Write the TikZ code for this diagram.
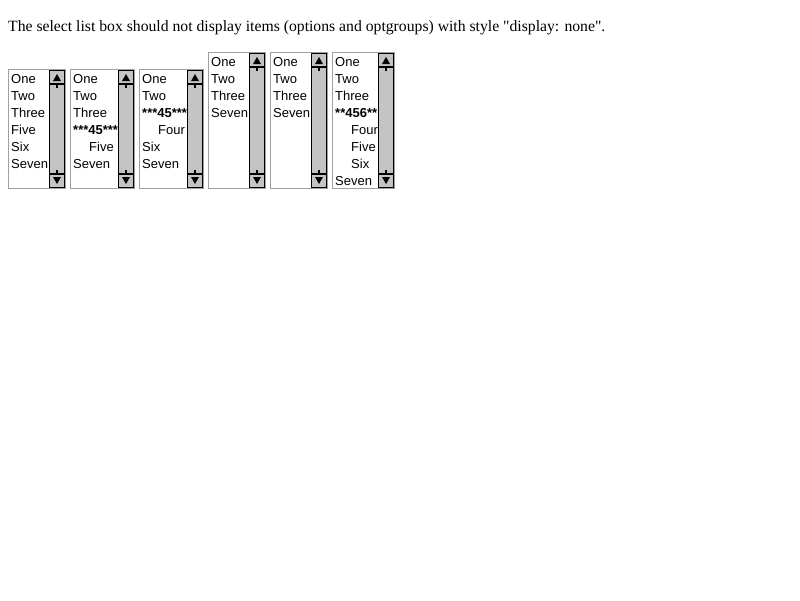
\documentclass[tikz,border=0pt]{standalone}
\usepackage{fontspec}
\setmainfont{Liberation Serif}[Ligatures=TeXOff]
\newfontfamily\arialf{Liberation Sans}
\definecolor{bordergray}{RGB}{160,160,160}
\definecolor{trackgray}{RGB}{196,196,196}
\tikzset{
  lbox/.style={draw=bordergray, fill=white, line width=1pt},
  sbar/.style={draw=black, fill=trackgray, line width=1pt},
  sbtn/.style={draw=black, fill=trackgray, line width=1pt},
  tick/.style={draw=black, line width=2pt},
  tri/.style={fill=black},
  opt/.style={anchor=base west, inner sep=0pt, font=\arialf\fontsize{13}{15}\selectfont},
  grp/.style={anchor=base west, inner sep=0pt, font=\arialf\bfseries\fontsize{13}{15}\selectfont},
  title/.style={anchor=base west, inner sep=0pt, font=\fontsize{15.7}{19}\selectfont},
}
% #1 left col, #2 right col, #3 top row, #4 bottom row
\newcommand\listbox[4]{%
  \pgfmathsetmacro\sL{#2-16}%
  \pgfmathsetmacro\cx{#2-16+8}%
  \draw[lbox] (#1+0.5,#3+0.5) rectangle (#2+0.5,#4+0.5);
  \draw[sbar] (\sL+0.5,#3+1.5) rectangle (#2-0.5,#4-0.5);
  \draw[sbtn] (\sL+0.5,#3+1.5) rectangle (#2-0.5,#3+14.5);
  \draw[black, line width=1pt] (\sL+0.5,#3+15.5) -- (#2-0.5,#3+15.5);
  \fill[tri] (\cx,#3+5) -- (\cx-4,#3+12) -- (\cx+4,#3+12) -- cycle;
  \draw[tick] (\cx,#3+15.5) -- (\cx,#3+19);
  \draw[sbtn] (\sL+0.5,#4-13.5) rectangle (#2-0.5,#4-0.5);
  \draw[black, line width=1pt] (\sL+0.5,#4-14.5) -- (#2-0.5,#4-14.5);
  \fill[tri] (\cx-4,#4-11) -- (\cx+4,#4-11) -- (\cx,#4-4) -- cycle;
  \draw[tick] (\cx,#4-14.5) -- (\cx,#4-18);
}
\begin{document}
\begin{tikzpicture}[x=1pt,y=-1pt]
\useasboundingbox[fill=white] (0,0) rectangle (800,600);
\node[title] (title) at (8,31) {The select list box should not display items (options and optgroups) with style "display: none".};

% box 1
\listbox{8}{65}{69}{188}
\node[opt] (a1) at (11,83) {One};
\node[opt] (a2) at (11,100) {Two};
\node[opt] (a3) at (11,117) {Three};
\node[opt] (a4) at (11,134) {Five};
\node[opt] (a5) at (11,151) {Six};
\node[opt] (a6) at (11,168) {Seven};

% box 2
\listbox{70}{134}{69}{188}
\node[opt] (b1) at (73,83) {One};
\node[opt] (b2) at (73,100) {Two};
\node[opt] (b3) at (73,117) {Three};
\node[grp] (b4) at (73,134) {***45***};
\node[opt] (b5) at (89,151) {Five};
\node[opt] (b6) at (73,168) {Seven};

% box 3
\listbox{139}{203}{69}{188}
\node[opt] (c1) at (142,83) {One};
\node[opt] (c2) at (142,100) {Two};
\node[grp] (c3) at (142,117) {***45***};
\node[opt] (c4) at (158,134) {Four};
\node[opt] (c5) at (142,151) {Six};
\node[opt] (c6) at (142,168) {Seven};

% box 4
\listbox{208}{265}{52}{188}
\node[opt] (d1) at (211,66) {One};
\node[opt] (d2) at (211,83) {Two};
\node[opt] (d3) at (211,100) {Three};
\node[opt] (d4) at (211,117) {Seven};

% box 5
\listbox{270}{327}{52}{188}
\node[opt] (e1) at (273,66) {One};
\node[opt] (e2) at (273,83) {Two};
\node[opt] (e3) at (273,100) {Three};
\node[opt] (e4) at (273,117) {Seven};

% box 6
\listbox{332}{394}{52}{188}
\node[opt] (f1) at (335,66) {One};
\node[opt] (f2) at (335,83) {Two};
\node[opt] (f3) at (335,100) {Three};
\node[grp] (f4) at (335,117) {**456**};
\node[opt] (f5) at (351,134) {Four};
\node[opt] (f6) at (351,151) {Five};
\node[opt] (f7) at (351,168) {Six};
\node[opt] (f8) at (335,185) {Seven};
\end{tikzpicture}
\end{document}
